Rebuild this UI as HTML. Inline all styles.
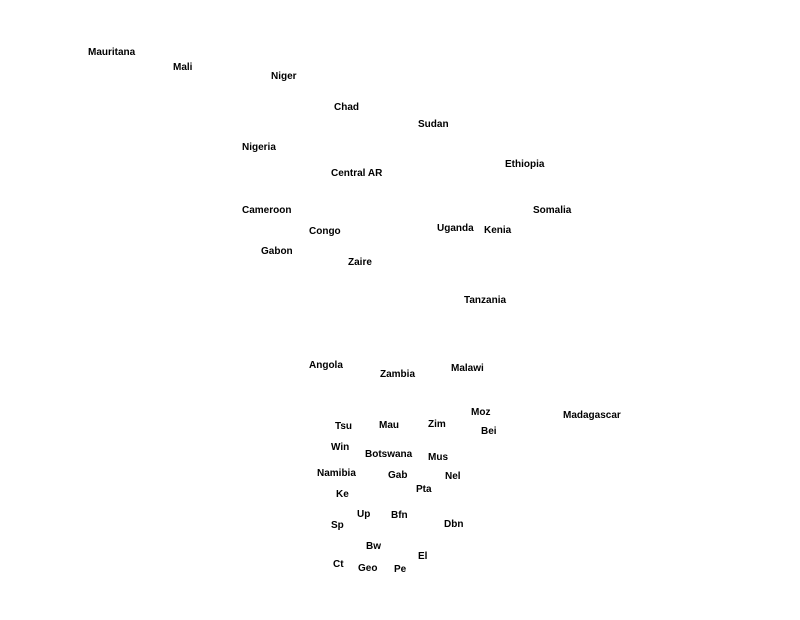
<!DOCTYPE html>
<html><head><meta charset="utf-8"><style>
html,body{margin:0;padding:0;background:#fff;}
#w{width:800px;height:620px;overflow:hidden;position:relative;}
#c{position:absolute;left:0;top:2px;width:800px;height:620px;font-family:"Liberation Sans",Arial,sans-serif;font-weight:bold;font-size:10px;color:#000;}
#c span{position:absolute;line-height:12px;white-space:nowrap;}
</style></head><body><div id="w"><div id="c">
<span style="left:88px;top:45px">Mauritana</span>
<span style="left:173px;top:60px">Mali</span>
<span style="left:271px;top:69px">Niger</span>
<span style="left:334px;top:100px">Chad</span>
<span style="left:418px;top:117px">Sudan</span>
<span style="left:242px;top:140px">Nigeria</span>
<span style="left:331px;top:166px">Central AR</span>
<span style="left:505px;top:157px">Ethiopia</span>
<span style="left:242px;top:203px">Cameroon</span>
<span style="left:533px;top:203px">Somalia</span>
<span style="left:309px;top:224px">Congo</span>
<span style="left:437px;top:221px">Uganda</span>
<span style="left:484px;top:223px">Kenia</span>
<span style="left:261px;top:244px">Gabon</span>
<span style="left:348px;top:255px">Zaire</span>
<span style="left:464px;top:293px">Tanzania</span>
<span style="left:309px;top:358px">Angola</span>
<span style="left:380px;top:367px">Zambia</span>
<span style="left:451px;top:361px">Malawi</span>
<span style="left:471px;top:405px">Moz</span>
<span style="left:563px;top:408px">Madagascar</span>
<span style="left:335px;top:419px">Tsu</span>
<span style="left:379px;top:418px">Mau</span>
<span style="left:428px;top:417px">Zim</span>
<span style="left:481px;top:424px">Bei</span>
<span style="left:331px;top:440px">Win</span>
<span style="left:365px;top:447px">Botswana</span>
<span style="left:428px;top:450px">Mus</span>
<span style="left:317px;top:466px">Namibia</span>
<span style="left:388px;top:468px">Gab</span>
<span style="left:445px;top:469px">Nel</span>
<span style="left:416px;top:482px">Pta</span>
<span style="left:336px;top:487px">Ke</span>
<span style="left:357px;top:507px">Up</span>
<span style="left:391px;top:508px">Bfn</span>
<span style="left:331px;top:518px">Sp</span>
<span style="left:444px;top:517px">Dbn</span>
<span style="left:366px;top:539px">Bw</span>
<span style="left:418px;top:549px">El</span>
<span style="left:333px;top:557px">Ct</span>
<span style="left:358px;top:561px">Geo</span>
<span style="left:394px;top:562px">Pe</span>
</div></div></body></html>
